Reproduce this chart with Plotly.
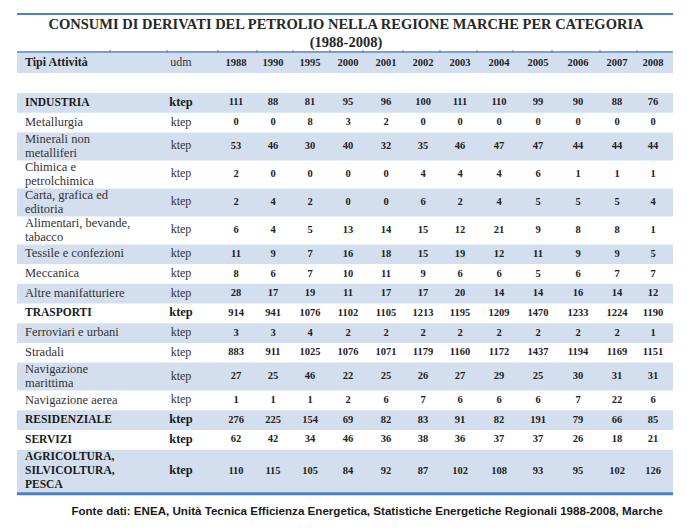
import plotly.graph_objects as go

# ---------------- data ----------------
title_line1 = "CONSUMI DI DERIVATI DEL PETROLIO NELLA REGIONE MARCHE PER CATEGORIA"
title_line2 = "(1988-2008)"
source_note = "Fonte dati: ENEA, Unità Tecnica Efficienza Energetica, Statistiche Energetiche Regionali 1988-2008, Marche"
header_label = "Tipi Attività"
header_unit = "udm"
years = ["1988", "1990", "1995", "2000", "2001", "2002", "2003", "2004", "2005", "2006", "2007", "2008"]

row_labels = [
    ["INDUSTRIA"], ["Metallurgia"], ["Minerali non", "metalliferi"], ["Chimica e", "petrolchimica"],
    ["Carta, grafica ed", "editoria"], ["Alimentari, bevande,", "tabacco"], ["Tessile e confezioni"],
    ["Meccanica"], ["Altre manifatturiere"], ["TRASPORTI"], ["Ferroviari e urbani"], ["Stradali"],
    ["Navigazione", "marittima"], ["Navigazione aerea"], ["RESIDENZIALE"], ["SERVIZI"],
    ["AGRICOLTURA,", "SILVICOLTURA,", "PESCA"],
]
row_is_category = [True, False, False, False, False, False, False, False, False,
                   True, False, False, False, False, True, True, True]
units = ["ktep"] * len(row_labels)

v1988 = [111, 0, 53, 2, 2, 6, 11, 8, 28, 914, 3, 883, 27, 1, 276, 62, 110]
v1990 = [88, 0, 46, 0, 4, 4, 9, 6, 17, 941, 3, 911, 25, 1, 225, 42, 115]
v1995 = [81, 8, 30, 0, 2, 5, 7, 7, 19, 1076, 4, 1025, 46, 1, 154, 34, 105]
v2000 = [95, 3, 40, 0, 0, 13, 16, 10, 11, 1102, 2, 1076, 22, 2, 69, 46, 84]
v2001 = [96, 2, 32, 0, 0, 14, 18, 11, 17, 1105, 2, 1071, 25, 6, 82, 36, 92]
v2002 = [100, 0, 35, 4, 6, 15, 15, 9, 17, 1213, 2, 1179, 26, 7, 83, 38, 87]
v2003 = [111, 0, 46, 4, 2, 12, 19, 6, 20, 1195, 2, 1160, 27, 6, 91, 36, 102]
v2004 = [110, 0, 47, 4, 4, 21, 12, 6, 14, 1209, 2, 1172, 29, 6, 82, 37, 108]
v2005 = [99, 0, 47, 6, 5, 9, 11, 5, 14, 1470, 2, 1437, 25, 6, 191, 37, 93]
v2006 = [90, 0, 44, 1, 5, 8, 9, 6, 16, 1233, 2, 1194, 30, 7, 79, 26, 95]
v2007 = [88, 0, 44, 1, 5, 8, 9, 7, 14, 1224, 2, 1169, 31, 22, 66, 18, 102]
v2008 = [76, 0, 44, 1, 4, 1, 5, 7, 12, 1190, 1, 1151, 31, 6, 85, 21, 126]
columns = [v1988, v1990, v1995, v2000, v2001, v2002, v2003, v2004, v2005, v2006, v2007, v2008]

# ---------------- layout / style ----------------
W, H = 687, 530
OFF = 8  # default page body margin of the html page
col_x = [236, 273, 310, 348, 386, 423, 460, 499, 538, 578, 617, 653]
label_x = 25
unit_x = 181
table_left, table_right = 17, 673
header_top, header_bottom = 53, 73
body_top = 93
row_height = {1: 19.7, 2: 28.0, 3: 43.0}
line_step = 14.0
band = "#D3DFEE"
rule = "#4F81BD"
serif = "Liberation Serif"

# row geometry derived from label line counts
row_span, row_mid = [], []
y = body_top
for lab in row_labels:
    h = row_height[len(lab)]
    row_span.append((y, y + h))
    row_mid.append(y + h / 2)
    y += h
body_bottom = y

shapes = []
shapes.append(dict(type="rect", xref="x", yref="y", x0=table_left, x1=table_right,
                   y0=header_top, y1=header_bottom, fillcolor=band, line_width=0, layer="below"))
for i, (t, b) in enumerate(row_span):
    if i % 2 == 0:
        shapes.append(dict(type="rect", xref="x", yref="y", x0=table_left, x1=table_right,
                           y0=t, y1=b, fillcolor=band, line_width=0, layer="below"))
shapes.append(dict(type="line", xref="x", yref="y", x0=table_left, x1=table_right, y0=14, y1=14,
                   line=dict(color=rule, width=2)))
shapes.append(dict(type="line", xref="x", yref="y", x0=table_left, x1=table_right, y0=52, y1=52,
                   line=dict(color=rule, width=1.5)))
shapes.append(dict(type="line", xref="x", yref="y", x0=table_left, x1=table_right,
                   y0=body_bottom + 1, y1=body_bottom + 1, line=dict(color=rule, width=3)))
sep_x = [110, 167, 218, 257, 293, 330, 363, 403, 440, 477, 513, 552, 600, 637]
for sx in sep_x:
    shapes.append(dict(type="line", xref="x", yref="y", x0=sx, x1=sx, y0=50, y1=52.5,
                       line=dict(color="#777777", width=1)))

fig = go.Figure()


def add_text(xs, ys, texts, pos, size, color, weight="normal", family=serif):
    fig.add_trace(go.Scatter(x=xs, y=ys, mode="text", text=texts, textposition=pos,
                             textfont=dict(family=family, size=size, color=color, weight=weight),
                             hoverinfo="skip"))


# title
add_text([346, 346], [25, 43], [title_line1, title_line2], "middle center", 14.5, "#262626", "bold")
# header
add_text([label_x], [63], [header_label], "middle right", 12, "#222222", "bold")
add_text([unit_x], [63], [header_unit], "middle center", 12, "#333333")
add_text(col_x, [63] * len(years), years, "middle center", 10.5, "#222222", "bold")

# row labels (each line placed separately for tight line spacing) and units
for bold in (True, False):
    xs, ys, ts = [], [], []
    for i, lab in enumerate(row_labels):
        if row_is_category[i] != bold:
            continue
        n = len(lab)
        for k, line in enumerate(lab):
            xs.append(label_x)
            ys.append(row_mid[i] + (k - (n - 1) / 2) * line_step)
            ts.append(line)
    add_text(xs, ys, ts, "middle right", 11.5 if bold else 12.5,
             "#1a1a1a" if bold else "#333333", "bold" if bold else "normal")
    idx = [i for i, c in enumerate(row_is_category) if c == bold]
    add_text([unit_x] * len(idx), [row_mid[i] for i in idx], [units[i] for i in idx], "middle center",
             12.5 if bold else 12, "#1a1a1a" if bold else "#333333", "bold" if bold else "normal")

# values
for cx, vals in zip(col_x, columns):
    add_text([cx] * len(vals), row_mid, [str(v) for v in vals], "middle center", 10.5, "#222222", "bold")

# source note
add_text([367], [512], [source_note], "middle center", 11.6, "#1a1a1a", "bold", "Liberation Sans")

fig.update_layout(
    width=W, height=H, margin=dict(l=0, r=0, t=0, b=0),
    paper_bgcolor="white", plot_bgcolor="white", showlegend=False, shapes=shapes,
    xaxis=dict(range=[OFF, W + OFF], visible=False, fixedrange=True),
    yaxis=dict(range=[H + OFF, OFF], visible=False, fixedrange=True),
)
fig.write_html("out.html")
